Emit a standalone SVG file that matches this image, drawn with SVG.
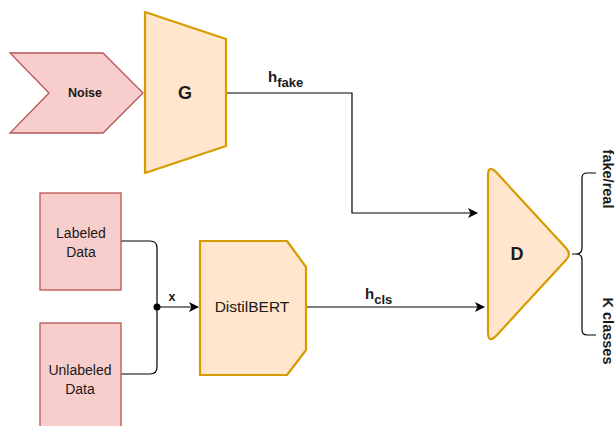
<svg xmlns="http://www.w3.org/2000/svg" width="616" height="426" viewBox="0 0 616 426">
  <style>
    text { font-family: "Liberation Sans", Arial, sans-serif; fill: #1a1a1a; }
    .input { fill: #f8cecc; stroke: #b85450; stroke-width: 1.3; }
    .model { fill: #ffe6cc; stroke: #d79b00; stroke-width: 2.2; stroke-linejoin: round; }
    .wire { fill: none; stroke: #000; stroke-width: 1.2; }
    .lbl { font-size: 14px; text-anchor: middle; }
    .big { font-size: 18px; font-weight: bold; text-anchor: middle; }
    .edge { font-size: 15px; font-weight: bold; }
    .out { font-size: 14.5px; font-weight: bold; text-anchor: middle; }
  </style>
  <defs>
    <marker id="arrow" viewBox="0 0 10 10" refX="9" refY="5" markerWidth="10" markerHeight="10" markerUnits="userSpaceOnUse" orient="auto">
      <path d="M0,0 L10,5 L0,10 L2.5,5 Z" fill="#000"/>
    </marker>
  </defs>

  <g id="connectors">
    <path class="wire" d="M226,93 H352 V213 H477" marker-end="url(#arrow)"/>
    <path class="wire" d="M121,241 H150 Q157,241 157,248 V367 Q157,374 150,374 H121"/>
    <path class="wire" d="M157,307 H198" marker-end="url(#arrow)"/>
    <circle cx="157" cy="307" r="3.5" fill="#000"/>
    <path class="wire" d="M307,307 H484" marker-end="url(#arrow)"/>
    <text class="edge" x="268" y="82">h<tspan font-size="13" dy="5">fake</tspan></text>
    <text class="edge" x="365" y="299">h<tspan font-size="13" dy="5">cls</tspan></text>
    <text x="172" y="301" font-size="12.5" font-weight="bold" text-anchor="middle">x</text>
  </g>

  <g id="noise">
    <polygon class="input" points="10,53 103,53 143,93 103,133 10,133 49,93"/>
    <text x="85" y="97" font-size="12.5" font-weight="bold" text-anchor="middle">Noise</text>
  </g>

  <g id="generator">
    <polygon class="model" points="145,12 226,39 226,146 145,173"/>
    <text class="big" x="185" y="99">G</text>
  </g>

  <g id="labeled-data">
    <rect class="input" x="40" y="193" width="81" height="97"/>
    <text class="lbl" x="81" y="238">Labeled</text>
    <text class="lbl" x="81" y="257">Data</text>
  </g>

  <g id="unlabeled-data">
    <rect class="input" x="40" y="323" width="81" height="110"/>
    <text class="lbl" x="80" y="375">Unlabeled</text>
    <text class="lbl" x="80" y="394">Data</text>
  </g>

  <g id="distilbert">
    <polygon class="model" points="200,241 287,241 306,267 306,350 287,375 200,375"/>
    <text x="252" y="312" font-size="15.5" text-anchor="middle">DistilBERT</text>
  </g>

  <g id="discriminator">
    <path class="model" d="M488,176 Q488,164 496,172 L566,248 Q572,254 566,260 L496,336 Q488,344 488,332 Z"/>
    <text class="big" x="517" y="260">D</text>
  </g>

  <g id="outputs">
    <path class="wire" d="M572,254 H576 Q582,254 582,248 V178 Q582,173 587,173 H596 M576,254 Q582,254 582,260 V330 Q582,335 587,335 H596"/>
    <text class="out" transform="translate(603,179) rotate(90)">fake/real</text>
    <text class="out" transform="translate(603,331) rotate(90)">K classes</text>
  </g>
</svg>
